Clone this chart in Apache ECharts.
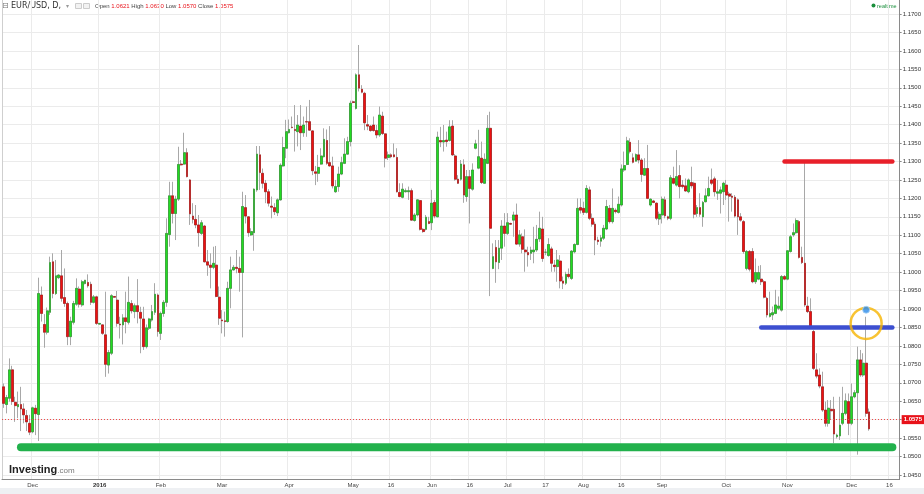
<!DOCTYPE html>
<html><head><meta charset="utf-8">
<script src="https://cdn.jsdelivr.net/npm/echarts@6/dist/echarts.min.js"></script>
<style>html,body{margin:0;padding:0;background:#fff}#c{width:924px;height:494px}</style>
</head><body><div id="c"></div>
<script>
const opens = [
1.0689,1.0641,1.0658,1.0735,1.0647,1.0635,1.0641,1.0629,1.0611,1.0590,
1.0567,1.0631,1.0614,1.0938,1.0858,1.0837,1.0891,1.1028,1.0942,1.0985,
1.0990,1.0931,1.0915,1.0825,1.0864,1.0913,1.0954,1.0911,1.0969,1.0972,
1.0967,1.0918,1.0933,1.0859,1.0857,1.0830,1.0748,1.0780,1.0934,1.0924,
1.0859,1.0857,1.0876,1.0864,1.0915,1.0893,1.0909,1.0891,1.0873,1.0798,
1.0848,1.0870,1.0891,1.0938,1.0834,1.0888,1.0918,1.1102,1.1207,1.1159,
1.1198,1.1293,1.1293,1.1324,1.1250,1.1152,1.1143,1.1128,1.1105,1.1125,
1.1028,1.1019,1.1013,1.1019,1.0932,1.0870,1.0868,1.0866,1.0956,1.1006,
1.1013,1.1010,1.0999,1.1175,1.1150,1.1101,1.1107,1.1223,1.1318,1.1268,
1.1241,1.1218,1.1179,1.1175,1.1161,1.1196,1.1288,1.1336,1.1378,1.1393,
1.1387,1.1381,1.1396,1.1378,1.1408,1.1408,1.1383,1.1272,1.1268,1.1293,
1.1313,1.1357,1.1297,1.1288,1.1218,1.1232,1.1266,1.1295,1.1320,1.1354,
1.1462,1.1444,1.1535,1.1496,1.1485,1.1400,1.1396,1.1399,1.1384,1.1372,
1.1423,1.1375,1.1311,1.1318,1.1318,1.1311,1.1216,1.1203,1.1218,1.1218,
1.1221,1.1140,1.1155,1.1194,1.1116,1.1116,1.1137,1.1134,1.1189,1.1150,
1.1357,1.1353,1.1358,1.1357,1.1396,1.1315,1.1252,1.1252,1.1291,1.1205,
1.1259,1.1225,1.1336,1.1282,1.1309,1.1241,1.1295,1.1390,1.1010,1.1067,
1.1026,1.1065,1.1125,1.1105,1.1132,1.1141,1.1155,1.1076,1.1096,1.1060,
1.1053,1.1051,1.1055,1.1060,1.1090,1.1117,1.1054,1.1045,1.1063,1.1019,
1.1015,1.1030,1.0976,1.0970,1.0994,1.0983,1.1055,1.1075,1.1175,1.1173,
1.1162,1.1223,1.1146,1.1130,1.1087,1.1084,1.1092,1.1117,1.1173,1.1137,
1.1168,1.1162,1.1182,1.1277,1.1292,1.1352,1.1310,1.1301,1.1318,1.1304,
1.1263,1.1281,1.1182,1.1193,1.1187,1.1144,1.1155,1.1196,1.1150,1.1146,
1.1254,1.1236,1.1262,1.1236,1.1234,1.1218,1.1243,1.1241,1.1159,1.1175,
1.1150,1.1191,1.1207,1.1250,1.1253,1.1214,1.1214,1.1218,1.1236,1.1212,
1.1206,1.1203,1.1196,1.1150,1.1137,1.1010,1.1056,1.1056,1.0974,1.0981,
1.0981,1.0974,1.0929,1.0880,1.0884,1.0888,1.0902,1.0897,1.0988,1.0981,
1.1056,1.1101,1.1107,1.1137,1.1040,1.1024,1.0908,1.0893,1.0839,1.0735,
1.0721,1.0689,1.0626,1.0590,1.0628,1.0628,1.0554,1.0556,1.0590,1.0617,
1.0649,1.0590,1.0662,1.0673,1.0762,1.0721,1.0753,1.0621];
const highs = [
1.0698,1.0667,1.0766,1.0746,1.0662,1.0676,1.0689,1.0644,1.0626,1.0613,
1.0635,1.0640,1.0985,1.0961,1.0886,1.0904,1.1042,1.1051,1.1033,1.0994,
1.1060,1.1010,1.0920,1.0879,1.0922,1.0983,1.0961,1.0979,1.0979,1.0994,
1.0974,1.0938,1.0936,1.0862,1.0858,1.0947,1.0789,1.0940,1.0935,1.0949,
1.0879,1.0886,1.0947,1.0988,1.0924,1.0915,1.0981,1.0906,1.0906,1.0858,
1.0876,1.0911,1.0970,1.0942,1.0893,1.0924,1.1146,1.1245,1.1245,1.1207,
1.1340,1.1304,1.1378,1.1336,1.1252,1.1187,1.1182,1.1155,1.1141,1.1128,
1.1060,1.1051,1.1069,1.1071,1.0961,1.0897,1.0893,1.0974,1.1042,1.1019,
1.1060,1.1042,1.1218,1.1209,1.1152,1.1119,1.1227,1.1342,1.1342,1.1281,
1.1250,1.1225,1.1205,1.1187,1.1200,1.1295,1.1367,1.1413,1.1414,1.1422,
1.1453,1.1426,1.1453,1.1422,1.1449,1.1467,1.1385,1.1288,1.1318,1.1336,
1.1390,1.1387,1.1396,1.1313,1.1250,1.1286,1.1313,1.1363,1.1367,1.1465,
1.1465,1.1539,1.1616,1.1507,1.1489,1.1426,1.1399,1.1422,1.1399,1.1449,
1.1435,1.1376,1.1327,1.1322,1.1349,1.1336,1.1241,1.1241,1.1227,1.1232,
1.1227,1.1160,1.1198,1.1196,1.1119,1.1155,1.1150,1.1223,1.1196,1.1381,
1.1394,1.1399,1.1381,1.1412,1.1412,1.1320,1.1263,1.1304,1.1306,1.1277,
1.1277,1.1295,1.1359,1.1386,1.1354,1.1322,1.1426,1.1435,1.1078,1.1087,
1.1087,1.1141,1.1160,1.1160,1.1134,1.1164,1.1186,1.1114,1.1105,1.1116,
1.1069,1.1069,1.1123,1.1128,1.1164,1.1150,1.1063,1.1092,1.1069,1.1033,
1.1060,1.1046,1.0988,1.1001,1.1010,1.1060,1.1078,1.1200,1.1200,1.1191,
1.1236,1.1232,1.1159,1.1137,1.1096,1.1101,1.1128,1.1196,1.1182,1.1227,
1.1173,1.1205,1.1292,1.1327,1.1367,1.1363,1.1322,1.1322,1.1358,1.1309,
1.1309,1.1345,1.1200,1.1196,1.1189,1.1164,1.1205,1.1205,1.1153,1.1263,
1.1286,1.1331,1.1290,1.1250,1.1254,1.1254,1.1286,1.1245,1.1182,1.1214,
1.1193,1.1227,1.1259,1.1281,1.1259,1.1250,1.1232,1.1245,1.1250,1.1218,
1.1214,1.1209,1.1200,1.1160,1.1141,1.1060,1.1060,1.1065,1.1037,1.1017,
1.1019,1.0978,1.0933,1.0947,1.0907,1.0952,1.0934,1.0992,1.0992,1.1060,
1.1101,1.1132,1.1146,1.1141,1.1069,1.1300,1.0933,1.0929,1.0843,1.0780,
1.0739,1.0730,1.0649,1.0653,1.0653,1.0662,1.0562,1.0662,1.0689,1.0671,
1.0671,1.0698,1.0680,1.0798,1.0789,1.0780,1.0879,1.0630];
const lows = [
1.0632,1.0617,1.0649,1.0640,1.0594,1.0604,1.0569,1.0590,1.0569,1.0558,
1.0563,1.0558,1.0542,1.0866,1.0795,1.0831,1.0884,1.0929,1.0938,1.0981,
1.0920,1.0906,1.0802,1.0802,1.0858,1.0909,1.0904,1.0906,1.0967,1.0958,
1.0911,1.0915,1.0857,1.0858,1.0830,1.0716,1.0725,1.0775,1.0930,1.0852,
1.0820,1.0804,1.0834,1.0858,1.0888,1.0875,1.0861,1.0780,1.0789,1.0793,
1.0843,1.0866,1.0884,1.0825,1.0816,1.0879,1.0906,1.1069,1.1132,1.1087,
1.1193,1.1289,1.1291,1.1257,1.1128,1.1132,1.1119,1.1069,1.1101,1.1026,
1.0990,1.0956,1.1008,1.0932,1.0857,1.0834,1.0825,1.0863,1.0902,1.1004,
1.0997,1.0947,1.0823,1.1132,1.1096,1.1098,1.1058,1.1218,1.1223,1.1227,
1.1187,1.1178,1.1146,1.1155,1.1152,1.1194,1.1286,1.1309,1.1376,1.1390,
1.1327,1.1341,1.1331,1.1367,1.1367,1.1383,1.1263,1.1236,1.1245,1.1291,
1.1311,1.1291,1.1286,1.1227,1.1215,1.1218,1.1263,1.1293,1.1318,1.1341,
1.1458,1.1441,1.1490,1.1485,1.1385,1.1385,1.1381,1.1381,1.1363,1.1367,
1.1372,1.1284,1.1304,1.1309,1.1311,1.1216,1.1203,1.1200,1.1216,1.1196,
1.1139,1.1137,1.1151,1.1113,1.1107,1.1113,1.1130,1.1114,1.1146,1.1149,
1.1339,1.1327,1.1340,1.1354,1.1315,1.1248,1.1239,1.1248,1.1188,1.1191,
1.1132,1.1221,1.1333,1.1279,1.1239,1.1239,1.1293,1.0935,1.1008,1.0971,
1.1008,1.1033,1.1069,1.1101,1.1128,1.1096,1.1074,1.1069,1.1051,1.1001,
1.1015,1.1033,1.1024,1.1055,1.1082,1.1028,1.1046,1.1042,1.1001,1.1001,
1.0974,1.0956,1.0954,1.0965,1.0983,1.0979,1.1051,1.1073,1.1159,1.1155,
1.1159,1.1141,1.1123,1.1046,1.1074,1.1069,1.1087,1.1114,1.1132,1.1132,
1.1159,1.1159,1.1178,1.1272,1.1290,1.1322,1.1295,1.1300,1.1295,1.1245,
1.1261,1.1198,1.1178,1.1187,1.1141,1.1128,1.1132,1.1146,1.1141,1.1141,
1.1238,1.1232,1.1200,1.1227,1.1218,1.1214,1.1227,1.1146,1.1150,1.1150,
1.1123,1.1189,1.1205,1.1236,1.1205,1.1196,1.1159,1.1182,1.1196,1.1137,
1.1164,1.1148,1.1101,1.1137,1.1050,1.1005,1.1002,1.0970,1.0968,1.0978,
1.0965,1.0929,1.0877,1.0877,1.0870,1.0886,1.0897,1.0893,1.0978,1.0978,
1.1053,1.1096,1.1104,1.1037,1.1022,1.0906,1.0889,1.0848,1.0735,1.0712,
1.0685,1.0621,1.0581,1.0581,1.0599,1.0536,1.0549,1.0545,1.0585,1.0612,
1.0558,1.0585,1.0658,1.0505,1.0716,1.0716,1.0608,1.0570];
const closes = [
1.0644,1.0660,1.0735,1.0649,1.0638,1.0641,1.0629,1.0613,1.0594,1.0566,
1.0632,1.0616,1.0942,1.0888,1.0837,1.0895,1.1026,1.0942,1.0990,1.0992,
1.0929,1.0915,1.0825,1.0867,1.0915,1.0956,1.0913,1.0974,1.0978,1.0963,
1.0918,1.0933,1.0861,1.0861,1.0834,1.0750,1.0782,1.0936,1.0932,1.0861,
1.0857,1.0876,1.0866,1.0918,1.0895,1.0909,1.0893,1.0875,1.0798,1.0849,
1.0873,1.0893,1.0940,1.0839,1.0888,1.0918,1.1105,1.1207,1.1159,1.1198,
1.1292,1.1291,1.1324,1.1259,1.1158,1.1143,1.1128,1.1107,1.1134,1.1028,
1.1019,1.1013,1.1024,1.0934,1.0875,1.0868,1.0866,1.0956,1.1006,1.1013,
1.1010,1.0999,1.1178,1.1152,1.1107,1.1110,1.1225,1.1320,1.1270,1.1241,
1.1218,1.1187,1.1176,1.1164,1.1196,1.1290,1.1338,1.1381,1.1387,1.1392,
1.1384,1.1399,1.1378,1.1399,1.1407,1.1385,1.1275,1.1268,1.1284,1.1315,
1.1360,1.1295,1.1288,1.1234,1.1232,1.1266,1.1297,1.1320,1.1354,1.1458,
1.1460,1.1535,1.1499,1.1488,1.1405,1.1396,1.1384,1.1384,1.1372,1.1426,
1.1376,1.1309,1.1318,1.1313,1.1313,1.1218,1.1205,1.1225,1.1221,1.1221,
1.1141,1.1155,1.1196,1.1116,1.1110,1.1149,1.1132,1.1187,1.1152,1.1366,
1.1353,1.1357,1.1354,1.1394,1.1318,1.1252,1.1241,1.1293,1.1209,1.1259,
1.1227,1.1277,1.1348,1.1313,1.1243,1.1306,1.1390,1.1119,1.1042,1.1028,
1.1065,1.1125,1.1105,1.1134,1.1130,1.1155,1.1076,1.1101,1.1062,1.1055,
1.1047,1.1060,1.1060,1.1089,1.1119,1.1037,1.1054,1.1075,1.1024,1.1015,
1.1033,1.0976,1.0970,1.0994,1.0988,1.1057,1.1075,1.1173,1.1168,1.1162,
1.1227,1.1146,1.1130,1.1087,1.1083,1.1093,1.1119,1.1178,1.1137,1.1173,
1.1164,1.1184,1.1280,1.1289,1.1356,1.1327,1.1298,1.1319,1.1304,1.1265,
1.1281,1.1200,1.1198,1.1189,1.1146,1.1157,1.1198,1.1153,1.1146,1.1256,
1.1241,1.1259,1.1232,1.1232,1.1220,1.1250,1.1234,1.1157,1.1175,1.1157,
1.1189,1.1207,1.1227,1.1241,1.1218,1.1218,1.1223,1.1241,1.1209,1.1206,
1.1203,1.1152,1.1150,1.1141,1.1056,1.1056,1.1008,1.0974,1.0999,1.0999,
1.0974,1.0932,1.0884,1.0888,1.0890,1.0911,1.0908,1.0988,1.0981,1.1058,
1.1096,1.1107,1.1140,1.1040,1.1026,1.0911,1.0893,1.0852,1.0739,1.0718,
1.0691,1.0626,1.0590,1.0631,1.0624,1.0561,1.0558,1.0585,1.0617,1.0651,
1.0590,1.0662,1.0673,1.0762,1.0721,1.0753,1.0617,1.0575];

const tickLabels = ['Dec','2016','Feb','Mar','Apr','May','16','Jun','16','Jul','17','Aug','16','Sep','Oct','Nov','Dec','16'];
const tickIndex  = [10,33,54,75,98,120,133,147,160,173,186,199,212,226,248,269,291,304];
const slotCount = 308;

const resistanceLevel = 1.1300, resistanceFrom = 268, resistanceTo = 305;
const pivotLevel = 1.0850, pivotFrom = 260, pivotTo = 305;
const supportLevel = 1.0525, supportFrom = 6, supportTo = 305;
const circleAt = [296, 1.0861];
const dotAt = [296, 1.0898];

const categories = Array.from({length: slotCount}, (_, i) => String(i));
const labelMap = {};
tickIndex.forEach((k, j) => { labelMap[k] = tickLabels[j]; });

const wickData = opens.map((o, i) => [o, closes[i], lows[i], highs[i]]);
const bodyData = opens.map((o, i) => [o, closes[i], Math.min(o, closes[i]), Math.max(o, closes[i])]);
const last = opens.length - 1;
const lastClose = closes[last];

const chart = echarts.init(document.getElementById('c'), null, {renderer: 'canvas'});
const FONT = "'Liberation Sans', Arial, sans-serif";
const isTick = (idx) => labelMap[idx] !== undefined;
const f4 = (v) => v.toFixed(4);

chart.setOption({
  animation: false,
  backgroundColor: '#ffffff',
  grid: {left: 2, right: 24, top: 0, bottom: 15, containLabel: false},
  xAxis: {
    type: 'category', data: categories, boundaryGap: true,
    axisLine: {show: true, lineStyle: {color: '#8a8a8a', width: 1}},
    axisTick: {show: false},
    axisLabel: {
      interval: (idx) => isTick(idx), margin: 3, fontSize: 6, color: '#444', fontFamily: FONT,
      formatter: (v, idx) => { const t = labelMap[idx]; if (t === undefined) return ''; return t === '2016' ? '{b|' + t + '}' : t; },
      rich: {b: {fontSize: 6, fontWeight: 'bold', color: '#333', fontFamily: FONT}}
    },
    splitLine: {show: true, interval: (idx) => isTick(idx), lineStyle: {color: '#ebebeb', width: 1}}
  },
  yAxis: [{
    type: 'value', position: 'right', min: 1.0439, max: 1.1738, splitNumber: 26, scale: true,
    axisLine: {show: true, lineStyle: {color: '#8a8a8a', width: 1}},
    axisTick: {show: true, length: 2, lineStyle: {color: '#8a8a8a'}},
    axisLabel: {margin: 3, fontSize: 6, color: '#333', fontFamily: FONT, showMinLabel: false, showMaxLabel: false,
      formatter: (v) => v.toFixed(4)},
    splitLine: {show: true, showMinLine: false, showMaxLine: false, lineStyle: {color: '#ebebeb', width: 1}}
  }, {
    type: 'value', position: 'left', min: 1.0439, max: 1.1738,
    axisLine: {show: true, lineStyle: {color: '#cfcfcf'}},
    axisTick: {show: false}, axisLabel: {show: false}, splitLine: {show: false}
  }],
  series: [
    {
      type: 'candlestick', name: 'wick', data: wickData, barWidth: '78%', z: 2, silent: true,
      itemStyle: {color: '#a8a8a8', color0: '#a8a8a8', borderColor: '#a8a8a8', borderColor0: '#a8a8a8', borderWidth: 1}
    },
    {
      type: 'candlestick', name: 'body', data: bodyData, barWidth: '78%', z: 3, silent: true,
      itemStyle: {color: '#22dd22', color0: '#ee1111', borderColor: '#1c8c1c', borderColor0: '#a00000', borderWidth: 0.5},
      markLine: {
        silent: true, symbol: ['none', 'none'], animation: false,
        data: [{yAxis: lastClose}],
        lineStyle: {color: '#f04a4a', type: [1, 2], width: 1},
        label: {position: 'end', distance: 2, formatter: f4(lastClose), color: '#fff', backgroundColor: '#e8121a',
          fontSize: 6, fontWeight: 'bold', fontFamily: FONT, padding: [2, 2, 1, 2]}
      }
    },
    {type: 'line', data: [[resistanceFrom, resistanceLevel], [resistanceTo, resistanceLevel]], symbol: 'none', z: 5, silent: true,
      lineStyle: {color: '#e8202a', width: 4.5, cap: 'round'}},
    {type: 'line', data: [[pivotFrom, pivotLevel], [pivotTo, pivotLevel]], symbol: 'none', z: 5, silent: true,
      lineStyle: {color: '#3d4fd0', width: 4.5, cap: 'round'}},
    {type: 'line', data: [[supportFrom, supportLevel], [supportTo, supportLevel]], symbol: 'none', z: 5, silent: true,
      lineStyle: {color: '#22b14c', width: 8, cap: 'round'}},
    {type: 'scatter', data: [circleAt], symbol: 'circle', symbolSize: 31, z: 6, silent: true,
      itemStyle: {color: 'rgba(0,0,0,0)', borderColor: '#f6b400', borderWidth: 2.5}},
    {type: 'scatter', data: [dotAt], symbol: 'circle', symbolSize: 7, z: 7, silent: true,
      itemStyle: {color: '#2a8ae8', borderColor: '#a9d2f5', borderWidth: 1}}
  ],
  graphic: [
    {type: 'text', x: 2, y: 6, style: {text: '⊟', fill: '#777', fontSize: 8, fontFamily: 'DejaVu Sans', verticalAlign: 'middle'}},
    {type: 'text', x: 11, y: 6, style: {text: 'EUR/USD, D,', fill: '#333', fontSize: 8, fontFamily: "'DejaVu Sans'", verticalAlign: 'middle'}},
    {type: 'text', x: 66, y: 6, style: {text: '▾', fill: '#999', fontSize: 6, fontFamily: 'DejaVu Sans', verticalAlign: 'middle'}},
    {type: 'rect', shape: {x: 75.5, y: 3.5, width: 6, height: 5}, style: {fill: '#f2f2f2', stroke: '#cccccc', lineWidth: 1}},
    {type: 'rect', shape: {x: 83.5, y: 3.5, width: 6, height: 5}, style: {fill: '#f2f2f2', stroke: '#cccccc', lineWidth: 1}},
    {type: 'text', x: 95, y: 6, style: {
      text: 'Open {r|' + f4(opens[last]) + '} High {r|' + f4(highs[last]) + '} Low {r|' + f4(lows[last]) + '} Close {r|' + f4(closes[last]) + '}',
      fill: '#444', fontSize: 6, fontFamily: FONT, verticalAlign: 'middle',
      rich: {r: {fill: '#e8121a', fontSize: 6, fontFamily: FONT}}
    }},
    {type: 'circle', shape: {cx: 873.5, cy: 5.5, r: 2}, style: {fill: '#1a8f3c'}},
    {type: 'text', x: 877, y: 6, style: {text: 'realtime', fill: '#1a8f3c', fontSize: 5.5, fontFamily: FONT, verticalAlign: 'middle'}},
    {type: 'text', x: 9, y: 470, style: {
      text: '{a|Investing}{b|.com}', verticalAlign: 'middle',
      rich: {
        a: {fill: '#222', fontSize: 11, fontWeight: 'bold', fontFamily: FONT},
        b: {fill: '#7a7a7a', fontSize: 8, fontFamily: FONT, padding: [2, 0, 0, 0]}
      }
    }},
    {type: 'rect', shape: {x: 0, y: 488, width: 924, height: 6}, style: {fill: '#eef0f3'}}
  ]
});
</script></body></html>
